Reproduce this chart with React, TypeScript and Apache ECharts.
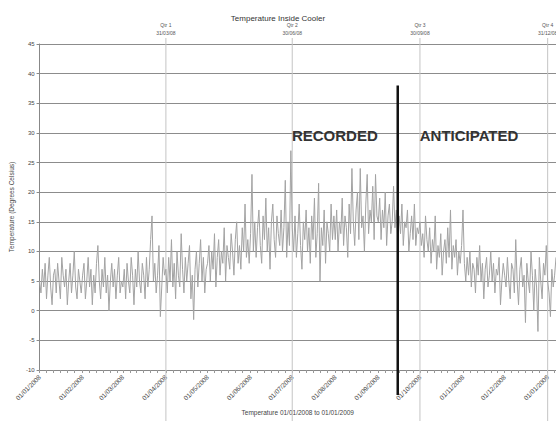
import React, { useEffect, useRef } from "react";
import * as echarts from "echarts";

const TITLE = "Temperature Inside Cooler";
const X_NAME = "Temperature 01/01/2008 to 01/01/2009";
const Y_NAME = "Temperature (Degrees Celsius)";
const Y_MIN = -10;
const Y_MAX = 45;
const Y_STEP = 5;

const JAN = [5,3,7,4,8,2,6,9,4,1,6,7,3,8,5,2,9,6,4,7,1,5,8,3,6,10,4,2,7,5,3];
const FEB = [6,8,2,5,9,4,7,1,6,3,8,11,5,2,7,4,9,3,6,0,5,8,4,7,2,6,9,3,5];
const MAR = [4,7,2,8,5,3,9,6,1,7,4,10,5,3,8,6,2,9,4,7,12,16,5,8,3,6,11,-1,4,9,6];
const APR = [7,3,9,5,12,4,8,2,10,6,4,13,7,3,9,5,8,11,2,6,-1.5,7,10,4,8,12,5,9,3,7];
const MAY = [8,11,5,10,7,13,4,9,12,6,10,8,14,5,11,9,7,13,10,6,12,15,8,11,7,14,10,18,9,12,8];
const JUN = [13,23,10,15,9,14,17,11,8,16,12,19,10,14,7,15,18,12,9,16,13,11,17,10,14,22,9,15,11,27];
const JUL = [14,10,16,9,13,18,11,7,15,12,17,10,14,8,16,12,19,9,13,21.5,5,14,11,17,8,15,13,10,18,12,16];
const AUG = [12,17,10,15,13,19,11,16,14,9,18,13,24,15,11,17,20,12,24,14,16,10,18,23,13,17,15,21,12,23,16];
const SEP = [15,19,12,17,14,20,11,16,18,13,15,21,14,17,12,16,13,18,11,15,14,17,10,13,16,12,18,11,14,13];
const OCT = [15,11,13,9,16,12,10,14,8,12,10,16,7,11,9,13,6,10,12,8,14,9,17,7,11,9,12,6,10,8,11];
const NOV = [17,8,5,9,6,10,4,8,7,3,9,6,11,5,8,2,7,9,4,6,10,5,8,3,7,6,9,1,5,8];
const DEC = [6,4,9,5,2,8,7,3,12,5,1,7,9,4,6,-2,8,5,3,10,6,0,7,4,-3.5,9,5,2,8,6,11];
const JAN09 = [5,3,-1,7,4,6,9];

const MONTHS: { mm: string; yyyy: string; vals: number[] }[] = [
  { mm: "01", yyyy: "2008", vals: JAN },
  { mm: "02", yyyy: "2008", vals: FEB },
  { mm: "03", yyyy: "2008", vals: MAR },
  { mm: "04", yyyy: "2008", vals: APR },
  { mm: "05", yyyy: "2008", vals: MAY },
  { mm: "06", yyyy: "2008", vals: JUN },
  { mm: "07", yyyy: "2008", vals: JUL },
  { mm: "08", yyyy: "2008", vals: AUG },
  { mm: "09", yyyy: "2008", vals: SEP },
  { mm: "10", yyyy: "2008", vals: OCT },
  { mm: "11", yyyy: "2008", vals: NOV },
  { mm: "12", yyyy: "2008", vals: DEC },
  { mm: "01", yyyy: "2009", vals: JAN09 },
];

const QUARTER_DATES = ["01/04/2008", "01/07/2008", "01/10/2008", "01/01/2009"];
const QUARTER_LABELS = [["Qtr 1", "31/03/08"], ["Qtr 2", "30/06/08"], ["Qtr 3", "30/09/08"], ["Qtr 4", "31/12/08"]];
const SPLIT_DATE = "15/09/2008";
const SPLIT_TOP_VALUE = 38;
const LEFT_TEXT = "RECORDED";
const RIGHT_TEXT = "ANTICIPATED";

const categories: string[] = [];
const values: number[] = [];
MONTHS.forEach((m) => {
  m.vals.forEach((v, i) => {
    const dd = String(i + 1).padStart(2, "0");
    categories.push(`${dd}/${m.mm}/${m.yyyy}`);
    values.push(v);
  });
});

export default function App() {
  const ref = useRef<HTMLDivElement>(null);
  useEffect(() => {
    if (!ref.current) return;
    const chart = echarts.init(ref.current, undefined, { renderer: "svg" });
    const font = "Arial, 'Liberation Sans', sans-serif";
    chart.setOption({
      animation: false,
      backgroundColor: "#ffffff",
      textStyle: { fontFamily: font },
      title: {
        text: TITLE,
        left: "center",
        top: 9,
        textStyle: { fontSize: 8, fontWeight: "normal", color: "#333", fontFamily: font },
      },
      grid: { left: 37, right: 0, top: 44, bottom: 51 },
      xAxis: {
        type: "category",
        data: categories,
        boundaryGap: false,
        name: X_NAME,
        nameLocation: "middle",
        nameGap: 39,
        nameTextStyle: { fontSize: 6.5, color: "#444" },
        axisLine: { onZero: false, lineStyle: { color: "#888", width: 1 } },
        axisTick: {
          interval: (_i: number, v: string) => ["01", "06", "11", "16", "21", "26"].includes(v.slice(0, 2)),
          length: 3,
          lineStyle: { color: "#999" },
        },
        axisLabel: {
          interval: (_i: number, v: string) => v.startsWith("01/"),
          rotate: 45,
          fontSize: 6.5,
          color: "#444",
          margin: 6,
        },
        splitLine: { show: false },
      },
      yAxis: {
        type: "value",
        min: Y_MIN,
        max: Y_MAX,
        interval: Y_STEP,
        name: Y_NAME,
        nameLocation: "middle",
        nameGap: 22,
        nameTextStyle: { fontSize: 6.5, color: "#444" },
        axisLine: { show: true, lineStyle: { color: "#888", width: 1 } },
        axisTick: { show: true, length: 3, lineStyle: { color: "#888" } },
        axisLabel: { fontSize: 6, color: "#444", margin: 5 },
        splitLine: { lineStyle: { color: "#8c8c8c", width: 1 } },
      },
      series: [
        {
          type: "line",
          data: values,
          symbol: "none",
          lineStyle: { color: "#a3a3a3", width: 1 },
        },
      ],
    });

    const top = 38;
    const bottom = 421;
    const g: any[] = [];
    QUARTER_DATES.forEach((d, i) => {
      const x = chart.convertToPixel({ xAxisIndex: 0 }, d) as number;
      g.push({
        type: "line",
        shape: { x1: x, y1: top, x2: x, y2: bottom },
        style: { stroke: "#c4c4c4", lineWidth: 1 },
        z: 1,
      });
      g.push({
        type: "text",
        x,
        y: 21,
        style: {
          text: QUARTER_LABELS[i].join("\n"),
          fontSize: 5,
          lineHeight: 8,
          fill: "#555",
          align: "center",
          fontFamily: font,
        },
      });
    });
    const sx = chart.convertToPixel({ xAxisIndex: 0 }, SPLIT_DATE) as number;
    const sy = chart.convertToPixel({ yAxisIndex: 0 }, SPLIT_TOP_VALUE) as number;
    g.push({
      type: "line",
      shape: { x1: sx, y1: sy, x2: sx, y2: 395 },
      style: { stroke: "#111", lineWidth: 2.5 },
      z: 10,
    });
    g.push({
      type: "text",
      x: sx - 20,
      y: 135,
      style: {
        text: LEFT_TEXT,
        fontSize: 15,
        fontWeight: "bold",
        fill: "#333",
        align: "right",
        verticalAlign: "middle",
        fontFamily: font,
      },
      z: 10,
    });
    g.push({
      type: "text",
      x: sx + 22,
      y: 135,
      style: {
        text: RIGHT_TEXT,
        fontSize: 15,
        fontWeight: "bold",
        fill: "#333",
        align: "left",
        verticalAlign: "middle",
        fontFamily: font,
      },
      z: 10,
    });
    chart.setOption({ graphic: g });

    return () => chart.dispose();
  }, []);
  return (
    <div
      ref={ref}
      style={{ position: "fixed", left: 0, top: 0, width: 556, height: 421 }}
    />
  );
}
